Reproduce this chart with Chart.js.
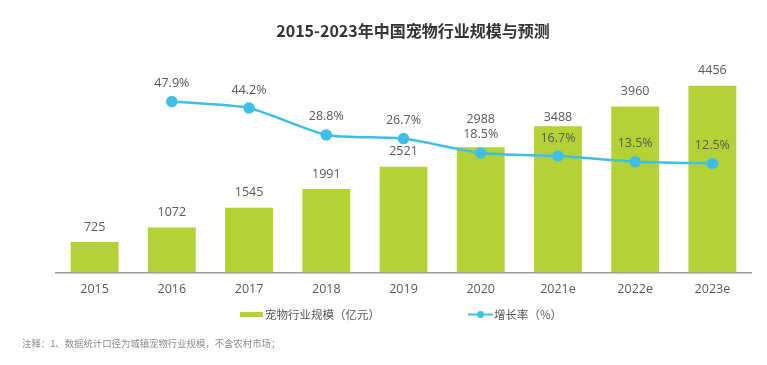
<!DOCTYPE html>
<html>
<head>
<meta charset="utf-8">
<script src="https://cdn.jsdelivr.net/npm/chart.js@4/dist/chart.umd.min.js"></script>
<style>
html,body{margin:0;padding:0;background:#fff;}
#wrap{position:relative;width:767px;height:365px;}
</style>
</head>
<body>
<div id="wrap"><canvas id="c" width="767" height="365"></canvas></div>
<script>
const categories = ['2015','2016','2017','2018','2019','2020','2021e','2022e','2023e'];
const marketSize = [725, 1072, 1545, 1991, 2521, 2988, 3488, 3960, 4456];
const growthRate = [null, 47.9, 44.2, 28.8, 26.7, 18.5, 16.7, 13.5, 12.5];
const titleText = '2015-2023年中国宠物行业规模与预测';
const legendBar = '宠物行业规模（亿元）';
const legendLine = '增长率（%）';
const noteText = '注释：1、数据统计口径为城镇宠物行业规模，不含农村市场；';

const BAR = '#b2d235';
const LINE = '#3fbfe8';
const TXT = '#595959';
const FONT = '"Open Sans","Noto Sans CJK SC",sans-serif';

const overlay = {
  id: 'overlay',
  afterDatasetsDraw(chart) {
    const ctx = chart.ctx;
    ctx.save();
    ctx.textAlign = 'center';
    ctx.textBaseline = 'middle';
    ctx.fillStyle = TXT;
    ctx.font = '12.5px ' + FONT;
    const barMeta = chart.getDatasetMeta(1);
    barMeta.data.forEach((el, i) => {
      let off = 15;
      if (i === 5) off = 28;
      if (i === 6) off = 9;
      ctx.fillText(String(marketSize[i]), el.x, el.y - off);
    });
    const lineMeta = chart.getDatasetMeta(0);
    lineMeta.data.forEach((el, i) => {
      if (growthRate[i] == null) return;
      ctx.fillText(growthRate[i].toFixed(1) + '%', el.x, el.y - 18);
    });
    ctx.restore();
  },
  afterDraw(chart) {
    const ctx = chart.ctx;
    ctx.save();
    ctx.fillStyle = '#333';
    ctx.textAlign = 'center';
    ctx.textBaseline = 'middle';
    ctx.font = 'bold 16px "Noto Sans CJK SC","Open Sans",sans-serif';
    ctx.fillText(titleText, 413, 31);
    ctx.fillStyle = BAR;
    ctx.fillRect(240, 312, 23, 5);
    ctx.fillStyle = TXT;
    ctx.textAlign = 'left';
    ctx.font = '11.5px "Noto Sans CJK SC",sans-serif';
    ctx.fillText(legendBar, 265, 314.5);
    ctx.strokeStyle = LINE;
    ctx.lineWidth = 2;
    ctx.beginPath(); ctx.moveTo(468, 314.5); ctx.lineTo(493, 314.5); ctx.stroke();
    ctx.fillStyle = LINE;
    ctx.beginPath(); ctx.arc(480.5, 314.5, 3.5, 0, Math.PI * 2); ctx.fill();
    ctx.fillStyle = TXT;
    ctx.fillText(legendLine, 494, 314.5);
    ctx.fillStyle = '#8c8c8c';
    ctx.font = '9.4px "Noto Sans CJK SC",sans-serif';
    ctx.fillText(noteText, 22, 343);
    ctx.restore();
  }
};

new Chart(document.getElementById('c'), {
  data: {
    labels: categories,
    datasets: [
      {
        type: 'line',
        label: legendLine,
        data: growthRate,
        yAxisID: 'y1',
        borderColor: LINE,
        backgroundColor: LINE,
        borderWidth: 2.5,
        pointRadius: 4.5,
        pointBackgroundColor: LINE,
        pointBorderColor: LINE,
        tension: 0.2,
        order: 0
      },
      {
        type: 'bar',
        label: legendBar,
        data: marketSize,
        yAxisID: 'y',
        backgroundColor: BAR,
        categoryPercentage: 1,
        barPercentage: 0.62,
        order: 1
      }
    ]
  },
  options: {
    responsive: false,
    animation: false,
    devicePixelRatio: 1,
    layout: { padding: { left: 56, right: 16, top: 63, bottom: 59.5 } },
    plugins: { legend: { display: false }, title: { display: false }, tooltip: { enabled: false } },
    scales: {
      x: {
        grid: { display: false, drawTicks: false },
        border: { display: true, color: '#9a9a9a', width: 1.5 },
        ticks: { color: TXT, font: { size: 12.5, family: FONT }, padding: 9, maxRotation: 0 }
      },
      y: { display: false, min: 0, max: 5000 },
      y1: { display: false, min: -50, max: 70 }
    }
  },
  plugins: [overlay]
});
</script>
</body>
</html>
